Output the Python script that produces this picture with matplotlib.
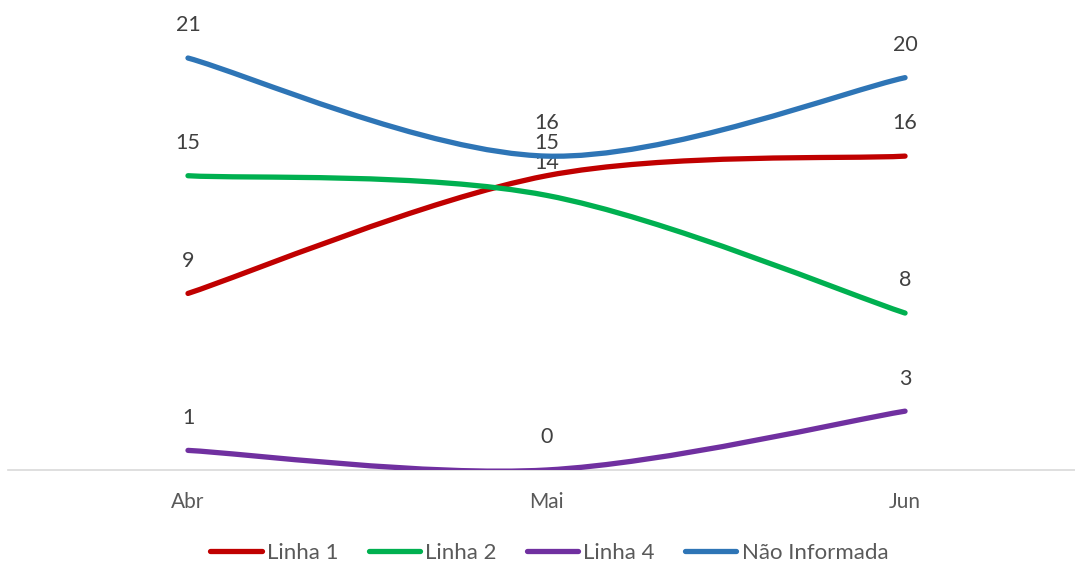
import matplotlib.pyplot as plt
from matplotlib.path import Path
from matplotlib.patches import PathPatch
from matplotlib.lines import Line2D

meses = ['Abr', 'Mai', 'Jun']
linha1 = [9, 15, 16]
linha2 = [15, 14, 8]
linha4 = [1, 0, 3]
nao_informada = [21, 16, 20]

series = [('Linha 1', linha1, '#C00000'),
          ('Linha 2', linha2, '#00B050'),
          ('Linha 4', linha4, '#7030A0'),
          ('Não Informada', nao_informada, '#2E75B6')]


def smooth_path(ys):
    # excel style smoothed line: cubic bezier through the points
    pts = list(enumerate(ys))
    n = len(pts)
    verts = [pts[0]]
    codes = [Path.MOVETO]
    for i in range(n - 1):
        p0 = pts[max(i - 1, 0)]
        p1 = pts[i]
        p2 = pts[i + 1]
        p3 = pts[min(i + 2, n - 1)]
        c1 = (p1[0] + (p2[0] - p0[0]) / 6, p1[1] + (p2[1] - p0[1]) / 6)
        c2 = (p2[0] - (p3[0] - p1[0]) / 6, p2[1] - (p3[1] - p1[1]) / 6)
        verts += [c1, c2, p2]
        codes += [Path.CURVE4] * 3
    return Path(verts, codes)


plt.rcParams['font.family'] = ['Lato', 'DejaVu Sans']
fig = plt.figure(figsize=[10.75, 5.65], dpi=100)
ax = fig.add_axes([8 / 1075, 95 / 565, 1 - 8 / 1075, 462 / 565])

handles = []
for name, ys, c in series:
    ax.add_patch(PathPatch(smooth_path(ys), fill=False, edgecolor=c, linewidth=3.8,
                           capstyle='round', joinstyle='round', zorder=3))
    for x, y in enumerate(ys):
        ax.annotate(str(y), (x, y), xytext=(0, 23.5), textcoords='offset points',
                    ha='center', va='center', fontsize=15.5, color='#404040')
    handles.append(Line2D([], [], color=c, linewidth=3.8, solid_capstyle='round'))

ax.set_xlim(-0.502, 2.474)
ax.set_ylim(0, 23.55)
ax.set_xticks(range(len(meses)))
ax.set_xticklabels(meses, fontsize=15, color='#595959')
ax.tick_params(axis='x', length=0, pad=16)
ax.set_yticks([])
for s in ['top', 'right', 'left']:
    ax.spines[s].set_visible(False)
ax.spines['bottom'].set_color('#D9D9D9')
ax.spines['bottom'].set_linewidth(1.2)

fig.legend(handles, [s[0] for s in series], loc='center', bbox_to_anchor=(0.511, 12 / 565),
           ncol=4, frameon=False, fontsize=16, labelcolor='#595959',
           handlelength=2.3, handletextpad=0.25, columnspacing=1.35)

plt.savefig('out.png')
